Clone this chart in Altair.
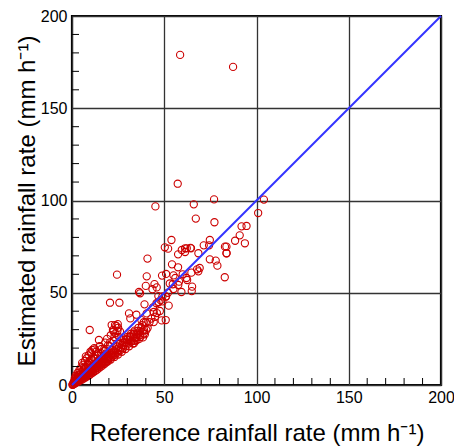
import altair as alt
import pandas as pd

# --- scatter data (reference rainfall vs estimated rainfall, mm h-1) ---
ref_outer = [58.6, 87.3, 57.3, 45.2, 66.0, 77.0, 67.1, 77.2, 104.0, 100.9, 91.9, 94.6, 93.7, 90.9, 88.4,
             83.7, 83.7, 82.8, 78.8, 77.9, 74.7, 74.7, 71.4, 74.3, 68.5, 69.2, 68.5, 67.8, 64.7, 65.1,
             64.9, 62.4, 64.2, 61.3, 61.3, 57.5, 57.5, 53.9, 54.2, 50.3, 52.1, 55.0, 51.0, 48.8, 59.3,
             57.6, 54.6, 40.9, 40.5, 24.4, 20.6, 25.7, 36.3, 36.9, 40.0, 44.7, 45.9, 43.6, 46.8, 50.8,
             49.0, 52.4, 50.8, 48.6, 47.6, 45.8, 43.9, 39.3, 40.5, 44.3, 44.3, 30.9, 34.9, 31.6, 37.6,
             38.9, 40.3, 38.5, 33.6, 23.3, 22.2, 24.6, 9.6, 14.6, 10.3, 12.3, 15.0, 59.5, 62.2, 64.5,
             82.9, 83.8]
est_outer = [178.9, 172.4, 109.1, 96.8, 97.9, 100.6, 90.2, 88.2, 100.5, 93.2, 86.0, 86.2, 76.8, 81.1, 78.2,
             75.0, 71.4, 58.4, 64.7, 67.4, 68.1, 78.6, 75.7, 75.7, 71.4, 63.4, 61.6, 62.7, 60.9, 53.3,
             50.9, 56.9, 74.3, 74.1, 72.1, 70.8, 63.8, 78.6, 65.4, 74.6, 73.9, 59.4, 60.2, 59.3, 50.4,
             54.2, 54.6, 68.5, 58.9, 59.8, 44.6, 44.6, 50.4, 49.7, 53.7, 54.7, 52.9, 51.9, 48.2, 47.9,
             45.3, 43.0, 35.2, 35.0, 40.1, 44.3, 42.1, 43.7, 38.8, 39.6, 34.1, 38.8, 38.1, 36.1, 35.2,
             34.0, 29.8, 25.8, 22.6, 32.5, 29.8, 29.3, 29.8, 24.4, 17.2, 19.3, 20.8, 73.2, 74.1, 74.1,
             75.0, 71.4]

ref_band = [0.2, 0.4, 0.6, 0.9, 1.1, 1.3, 1.6, 1.9, 2.1, 2.4, 2.7, 2.9, 3.2, 3.5, 3.8, 4.1, 4.4, 4.7,
            5.0, 5.3, 5.6, 5.9, 6.2, 6.5, 6.8, 7.1, 7.4, 7.7, 8.0, 8.3, 8.6, 8.9, 9.2, 9.5, 9.8, 10.1,
            10.4, 10.7, 11.0, 11.3, 11.6, 11.9, 12.2, 12.5, 12.8, 13.1, 13.4, 13.7, 14.0, 14.3, 14.6,
            14.9, 15.2, 15.5, 15.8, 16.1, 16.4, 16.7, 17.0, 17.3, 17.6, 17.9, 18.2, 18.5, 18.8, 19.1,
            19.4, 19.7, 20.0, 20.4, 20.8, 21.2, 21.6, 22.0, 22.4, 22.8, 23.2, 23.6, 24.0, 24.5, 25.0,
            25.5, 26.0, 26.5, 27.0, 27.5, 28.0, 28.5, 29.0, 29.5, 30.0, 30.6, 31.2, 31.8, 32.4, 33.0,
            33.6, 34.2, 34.8, 35.4, 36.0, 36.8, 37.6, 38.4]
est_band = [0.1, 0.5, 0.3, 1.2, 0.6, 1.0, 2.1, 1.2, 1.8, 3.0, 1.7, 2.4, 4.2, 2.3, 3.0, 5.2, 2.9, 3.8,
            6.3, 3.6, 4.5, 7.4, 4.2, 5.3, 8.8, 4.9, 6.0, 9.5, 5.6, 6.8, 11.0, 6.2, 7.4, 12.0, 6.8, 8.0,
            13.2, 7.5, 8.7, 10.5, 8.2, 9.5, 14.5, 8.8, 10.1, 11.7, 9.4, 10.6, 15.8, 10.0, 11.4,
            12.6, 10.6, 12.0, 17.2, 11.3, 12.7, 14.0, 12.0, 13.3, 18.6, 12.6, 14.0, 15.3, 13.2, 14.6,
            16.0, 13.9, 15.2, 21.0, 14.6, 16.2, 17.4, 15.5, 16.9, 18.3, 16.3, 17.8, 19.4, 17.4, 18.8,
            20.4, 18.6, 20.1, 21.7, 19.8, 21.5, 23.2, 21.0, 22.8, 24.5, 22.4, 24.3, 26.0, 23.8, 25.8,
            27.5, 25.3, 27.4, 29.2, 27.0, 29.2, 31.0, 29.5]

ref_fill = [0.5, 1.0, 1.5, 2.0, 2.5, 3.0, 3.5, 4.0, 4.5, 5.0, 5.5, 6.0, 6.5, 7.0, 7.5, 8.0, 8.5, 9.0,
            9.5, 10.0, 10.5, 11.0, 11.5, 12.0, 12.5, 13.0, 13.5, 14.0, 14.5, 15.0, 15.5, 16.0, 16.5,
            17.0, 17.5, 18.0, 18.5, 19.0, 19.5, 20.0, 21.0, 22.0, 23.0, 24.0, 25.0, 26.0, 27.0, 28.0,
            29.0, 30.0, 31.0, 32.0, 33.0, 34.0, 35.0, 36.0, 37.0, 38.0, 39.0, 40.0,
            2.0, 3.0, 4.0, 5.0, 6.0, 7.0, 8.0, 9.0, 10.0, 11.0, 5.5, 7.5, 13.0, 12.0, 15.0, 16.0,
            18.0, 19.0, 21.0, 23.0, 24.0, 25.0, 26.0, 21.5, 22.5, 24.8, 23.5,
            36.0, 37.0, 35.0, 39.0, 41.0, 42.0, 43.0, 45.0, 46.0, 34.0, 32.0, 36.5, 39.5,
            47.0, 48.0, 49.0, 51.0, 52.0, 53.0, 55.0, 56.0, 58.0, 60.0, 62.0,
            1.5, 2.5, 3.5, 4.5, 6.5, 8.5, 9.5, 10.5, 11.5, 13.5, 14.5, 17.5, 19.5, 20.5, 22.5,
            25.5, 27.5, 29.5, 31.5, 33.5]
est_fill = [0.2, 1.8, 0.8, 2.8, 1.4, 3.5, 1.9, 4.2, 2.5, 5.0, 2.9, 5.8, 3.6, 6.5, 4.2, 7.3, 4.8, 8.1,
            5.4, 9.2, 6.2, 10.0, 6.9, 11.2, 7.6, 12.0, 8.3, 12.8, 9.0, 13.6, 9.8, 14.5, 10.5,
            15.2, 11.4, 16.0, 12.2, 16.8, 12.9, 17.6, 13.8, 19.0, 15.2, 21.0, 16.5, 22.5, 18.0, 24.5,
            19.5, 26.0, 21.0, 27.8, 22.5, 29.5, 24.2, 31.0, 26.0, 32.5, 28.0, 34.0,
            5.0, 6.5, 8.0, 9.5, 11.0, 13.0, 14.5, 16.0, 18.0, 19.0, 12.0, 15.5, 18.0, 20.0, 21.0, 19.5,
            23.0, 25.0, 27.0, 26.0, 32.0, 31.0, 29.0, 32.5, 29.0, 33.0, 28.0,
            28.0, 27.0, 26.0, 30.0, 31.0, 34.0, 36.0, 37.0, 39.0, 24.0, 23.5, 25.0, 27.5,
            45.0, 46.0, 48.0, 48.0, 50.0, 55.0, 52.0, 58.0, 56.0, 60.0, 58.0,
            3.5, 4.5, 5.5, 7.0, 9.5, 11.5, 13.0, 14.0, 15.0, 16.5, 17.5, 19.5, 21.5, 23.0, 24.0,
            26.0, 23.0, 25.0, 26.5, 28.5]

one_to_one = [0, 200]
x_ticks = [0, 50, 100, 150, 200]
minor_ticks = [10, 20, 30, 40, 60, 70, 80, 90, 110, 120, 130, 140, 160, 170, 180, 190]

pts = pd.DataFrame({
    "ref": ref_outer + ref_band + ref_fill,
    "est": est_outer + est_band + est_fill,
})
line_df = pd.DataFrame({"ref": one_to_one, "est": one_to_one})
minor_df = pd.DataFrame({"v": minor_ticks})

FONT = "Liberation Sans"
xs = alt.Scale(domain=[0, 200], nice=False, zero=False)
ys = alt.Scale(domain=[0, 200], nice=False, zero=False)

x_axis = alt.Axis(values=x_ticks, grid=True, gridColor="#333333", gridWidth=1.3,
                  ticks=False, domain=False, labelFontSize=16, labelFont=FONT, labelColor="black",
                  labelPadding=4, labelFlush=False, labelOverlap=False,
                  title="Reference rainfall rate (mm h⁻¹)", titleFont=FONT, titleFontSize=24,
                  titleFontWeight="normal", titleColor="black", titleBaseline="alphabetic",
                  titleY=55, titleX=184.5, titleAlign="center")
y_axis = alt.Axis(values=x_ticks, grid=True, gridColor="#333333", gridWidth=1.3,
                  ticks=False, domain=False, labelFontSize=16, labelFont=FONT, labelColor="black",
                  labelPadding=5, labelFlush=False, labelOverlap=False,
                  title="Estimated rainfall rate (mm h⁻¹)", titleFont=FONT, titleFontSize=24,
                  titleFontWeight="normal", titleColor="black", titleAngle=270,
                  titleBaseline="alphabetic", titleAlign="center", titleX=-38, titleY=184.5)

points = alt.Chart(pts).mark_point(shape="circle", filled=False, color="#cc0000",
                                   strokeWidth=1.1, size=52, opacity=1, clip=False).encode(
    x=alt.X("ref:Q", scale=xs, axis=x_axis),
    y=alt.Y("est:Q", scale=ys, axis=y_axis),
)

line = alt.Chart(line_df).mark_line(color="#3333ff", strokeWidth=2).encode(
    x=alt.X("ref:Q", scale=xs),
    y=alt.Y("est:Q", scale=ys),
)

minor_x = alt.Chart(minor_df).mark_rule(color="black", strokeWidth=1).encode(
    x=alt.X("v:Q", scale=xs),
    y=alt.value(369), y2=alt.value(362),
)
minor_y = alt.Chart(minor_df).mark_rule(color="black", strokeWidth=1).encode(
    y=alt.Y("v:Q", scale=ys),
    x=alt.value(0), x2=alt.value(7),
)

chart = alt.layer(points, minor_x, minor_y, line).properties(
    width=369, height=369,
    autosize=alt.AutoSizeParams(type="none"),
    padding={"left": 72, "top": 16, "right": 13, "bottom": 61},
    background="white",
).configure_view(stroke="black", strokeWidth=2.2)

chart.save("out.html", embed_options={"renderer": "svg", "actions": False})
